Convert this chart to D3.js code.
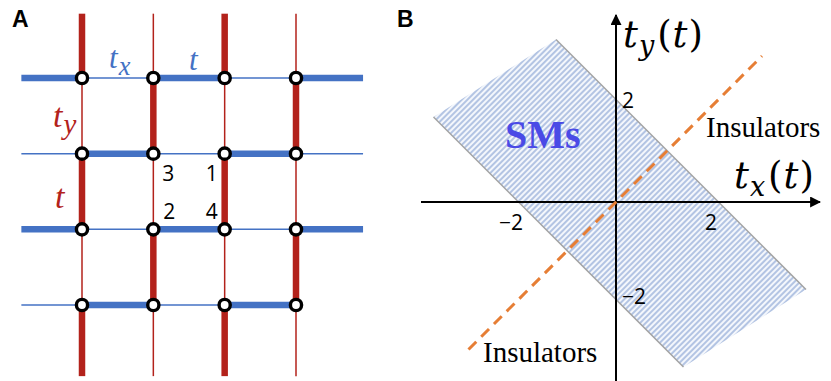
<!DOCTYPE html>
<html>
<head>
<meta charset="utf-8">
<script src="https://cdn.jsdelivr.net/npm/d3@7"></script>
<style>
  body { margin: 0; background: #fff; }
  text { font-kerning: normal; }
</style>
</head>
<body>
<svg id="fig" width="831" height="381"></svg>
<script>
// ---------- Panel A: square lattice with alternating strong (t) / weak (t_x, t_y) bonds ----------
const latCols = [0, 1, 2, 3];
const latRows = [0, 1, 2, 3];
// Horizontal bonds of each row: entry j joins column j-1 to column j
// (first entry is the lead coming in from the left, a fifth entry the lead going out right). 1 = strong t, 0 = weak t_x
const rowBonds = [
  [1, 0, 1, 0, 1],
  [0, 1, 0, 1, 0],
  [1, 0, 1, 0, 1],
  [0, 1, 0, 1]
];
// Vertical bonds of each column: entry i joins row i-1 to row i (first = lead from top, fifth = lead to bottom). 1 = strong t, 0 = weak t_y
const colBonds = [
  [1, 0, 1, 0, 1],
  [0, 1, 0, 1, 0],
  [1, 0, 1, 0, 1],
  [0, 1, 0, 1, 0]
];
const leadSpan = [-0.85, 3.94];    // how far the leads reach, in lattice units
const siteNumbers = [
  { text: "3", col: 1, row: 1, corner: "se" },
  { text: "1", col: 2, row: 1, corner: "sw" },
  { text: "2", col: 1, row: 2, corner: "ne" },
  { text: "4", col: 2, row: 2, corner: "nw" }
];

// ---------- Panel B: phase diagram in the (t_x, t_y) plane ----------
const smBand = [[-1.2, 3.25], [3.8, -1.75], [1.35, -3.3], [-3.65, 1.7]];   // |t_x + t_y| < 2
const bandEdges = [[[-1.2, 3.25], [3.8, -1.75]], [[-3.65, 1.7], [1.35, -3.3]]];
const diagLine = [[-2.95, -2.95], [2.92, 2.92]];    // t_x = t_y
const xAxisSpan = [-3.9, 4.08];
const yAxisSpan = [3.74, -3.62];
const xTicks = [-2, 2];
const yTicks = [2, -2];

const RED = "#b3221b", BLUE = "#4472c4";
const svg = d3.select("#fig");

// ===== Panel A =====
const xA = d3.scaleLinear().domain([0, 3]).range([82, 296]);
const yA = d3.scaleLinear().domain([0, 3]).range([78, 305]);
const gA = svg.append("g");

const endCol = k => k < 0 ? leadSpan[0] : (k > 3 ? leadSpan[1] : k);

const vSegs = [];
colBonds.forEach((bonds, c) => bonds.forEach((s, i) => {
  vSegs.push({ c, y0: endCol(i - 1), y1: endCol(i), strong: s });
}));
gA.selectAll("line.v").data(vSegs).join("line")
  .attr("x1", d => xA(d.c)).attr("x2", d => xA(d.c))
  .attr("y1", d => yA(d.y0)).attr("y2", d => yA(d.y1))
  .attr("stroke", RED)
  .attr("stroke-width", d => d.strong ? 6.5 : 1.5);

const hSegs = [];
rowBonds.forEach((bonds, r) => bonds.forEach((s, j) => {
  hSegs.push({ r, x0: endCol(j - 1), x1: endCol(j), strong: s });
}));
gA.selectAll("line.h").data(hSegs).join("line")
  .attr("y1", d => yA(d.r)).attr("y2", d => yA(d.r))
  .attr("x1", d => xA(d.x0)).attr("x2", d => xA(d.x1))
  .attr("stroke", BLUE)
  .attr("stroke-width", d => d.strong ? 6.5 : 1.5);

const sites = latRows.flatMap(r => latCols.map(c => ({ r, c })));
gA.selectAll("circle.site").data(sites).join("circle")
  .attr("cx", d => xA(d.c)).attr("cy", d => yA(d.r))
  .attr("r", 5.6)
  .attr("fill", "#fff").attr("stroke", "#000").attr("stroke-width", 3.4);

const cornerOff = { se: [9, 27, "start"], sw: [-7, 27, "end"], ne: [10, -10, "start"], nw: [-7, -10, "end"] };
gA.selectAll("text.num").data(siteNumbers).join("text")
  .attr("x", d => xA(d.col) + cornerOff[d.corner][0])
  .attr("y", d => yA(d.row) + cornerOff[d.corner][1])
  .attr("text-anchor", d => cornerOff[d.corner][2])
  .attr("font-family", "Open Sans, Liberation Sans, sans-serif")
  .attr("font-size", 21)
  .text(d => d.text);

// bond labels
function hopLabel(g, x, y, sub, color, size) {
  const t = g.append("text").attr("x", x).attr("y", y)
    .attr("font-family", "Liberation Serif, Times New Roman, serif")
    .attr("font-style", "italic").attr("font-size", size).attr("fill", color);
  t.append("tspan").text("t");
  if (sub) t.append("tspan").attr("dx", 1).attr("dy", size * 0.22).attr("font-size", size * 0.85).text(sub);
  return t;
}
hopLabel(gA, 109, 68, "x", BLUE, 31);
hopLabel(gA, 189, 70, null, BLUE, 31);
hopLabel(gA, 53, 127, "y", RED, 34);
hopLabel(gA, 55, 208, null, RED, 34);

svg.append("text").attr("x", 12).attr("y", 27)
  .attr("font-family", "Liberation Sans, Arial, sans-serif")
  .attr("font-weight", "bold").attr("font-size", 23).text("A");

// ===== Panel B =====
const xB = d3.scaleLinear().domain([-4, 4]).range([416, 816]);
const yB = d3.scaleLinear().domain([-4, 4]).range([402, 2]);
const gB = svg.append("g");

const defs = svg.append("defs");
const pat = defs.append("pattern").attr("id", "hatch")
  .attr("patternUnits", "userSpaceOnUse").attr("width", 4).attr("height", 4)
  .attr("patternTransform", "rotate(45)");
pat.append("rect").attr("width", 4).attr("height", 4).attr("fill", "#f4f7fc");
pat.append("line").attr("x1", 1).attr("y1", 0).attr("x2", 1).attr("y2", 4)
  .attr("stroke", "#9db3db").attr("stroke-width", 1.5);

const line = d3.line().x(d => xB(d[0])).y(d => yB(d[1]));
gB.append("path").attr("d", line(smBand) + "Z").attr("fill", "url(#hatch)");
gB.selectAll("path.edge").data(bandEdges).join("path")
  .attr("d", line).attr("stroke", "#a3a3a3").attr("stroke-width", 1.5).attr("fill", "none");

// axes
const mk = defs.append("marker").attr("id", "arrow").attr("viewBox", "0 0 10 10")
  .attr("refX", 9).attr("refY", 5).attr("markerWidth", 5.5).attr("markerHeight", 5.5)
  .attr("markerUnits", "strokeWidth").attr("orient", "auto");
mk.append("path").attr("d", "M0,0 L10,5 L0,10 Z").attr("fill", "#000");

gB.append("line")
  .attr("x1", xB(xAxisSpan[0])).attr("x2", xB(xAxisSpan[1]))
  .attr("y1", yB(0)).attr("y2", yB(0))
  .attr("stroke", "#000").attr("stroke-width", 2).attr("marker-end", "url(#arrow)");
gB.append("line")
  .attr("x1", xB(0)).attr("x2", xB(0))
  .attr("y1", yB(yAxisSpan[1])).attr("y2", yB(yAxisSpan[0]))
  .attr("stroke", "#000").attr("stroke-width", 2).attr("marker-end", "url(#arrow)");

// t_x = t_y boundary
gB.append("path").attr("d", line(diagLine))
  .attr("stroke", "#e67e35").attr("stroke-width", 3).attr("stroke-dasharray", "11,7")
  .attr("fill", "none");

// tick labels
const tickFont = "Open Sans, Liberation Sans, sans-serif";
gB.selectAll("text.xt").data(xTicks).join("text")
  .attr("x", d => xB(d) - 5).attr("y", yB(0) + 28)
  .attr("text-anchor", "middle").attr("font-family", tickFont).attr("font-size", 21)
  .text(d => d < 0 ? "\u2212" + Math.abs(d) : d);
gB.selectAll("text.yt").data(yTicks).join("text")
  .attr("x", xB(0) + 6).attr("y", d => yB(d) + (d > 0 ? 6 : 2))
  .attr("font-family", tickFont).attr("font-size", 21)
  .text(d => d < 0 ? "\u2212" + Math.abs(d) : d);

// axis titles t_x(t), t_y(t)
function axisTitle(x, y, sub) {
  const t = gB.append("text").attr("x", x).attr("y", y)
    .attr("font-family", "DejaVu Serif, serif").attr("font-size", 37);
  t.append("tspan").attr("font-style", "italic").text("t");
  t.append("tspan").attr("font-style", "italic").attr("font-size", 27).attr("dy", 8).attr("dx", 1).text(sub);
  t.append("tspan").attr("dy", -8).attr("dx", 3).text("(");
  t.append("tspan").attr("font-style", "italic").attr("dx", 1).text("t");
  t.append("tspan").attr("dx", 1).text(")");
}
axisTitle(623, 47, "y");
axisTitle(734, 188, "x");

const serif = "Liberation Serif, Times New Roman, serif";
gB.append("text").attr("x", 706).attr("y", 137).attr("font-family", serif).attr("font-size", 29).text("Insulators");
gB.append("text").attr("x", 483).attr("y", 362).attr("font-family", serif).attr("font-size", 29).text("Insulators");
gB.append("text").attr("x", 505).attr("y", 148).attr("font-family", serif)
  .attr("font-weight", "bold").attr("font-size", 40).attr("fill", "#4a4ae6").text("SMs");

svg.append("text").attr("x", 397).attr("y", 27)
  .attr("font-family", "Liberation Sans, Arial, sans-serif")
  .attr("font-weight", "bold").attr("font-size", 23).text("B");
</script>
</body>
</html>
